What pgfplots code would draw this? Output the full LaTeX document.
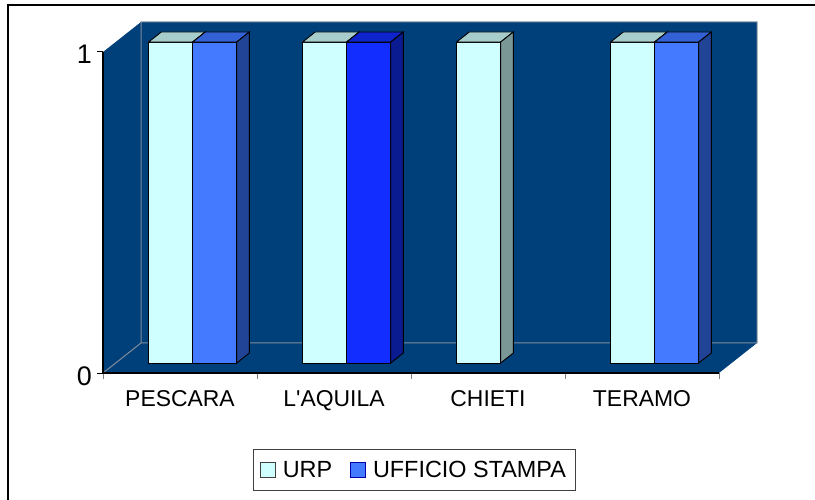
\documentclass[border=0pt]{standalone}
\usepackage{fontspec}
\setmainfont{Liberation Sans}[Ligatures=TeXOff]
\usepackage{pgfplots}
\pgfplotsset{compat=1.18}
\definecolor{wall}{RGB}{0,64,122}
\definecolor{edgegray}{RGB}{128,140,155}
\definecolor{urpF}{RGB}{208,255,255}
\definecolor{urpT}{RGB}{166,204,204}
\definecolor{urpS}{RGB}{122,153,150}
\definecolor{stF}{RGB}{68,122,255}
\definecolor{stT}{RGB}{51,98,214}
\definecolor{stS}{RGB}{34,68,150}
\definecolor{aqF}{RGB}{18,45,255}
\definecolor{aqT}{RGB}{14,36,204}
\definecolor{aqS}{RGB}{10,26,145}
% #1 left x, #2 right x, #3 value, #4 front, #5 top, #6 side
\newcommand{\tdbar}[6]{%
  \addplot3[fill=#4, draw=black, line width=0.9bp, forget plot] coordinates {(#1,0.333,0) (#2,0.333,0) (#2,0.333,#3) (#1,0.333,#3)} -- cycle;
  \addplot3[fill=#5, draw=black, line width=0.9bp, forget plot] coordinates {(#1,0.333,#3) (#2,0.333,#3) (#2,0.667,#3) (#1,0.667,#3)} -- cycle;
  \addplot3[fill=#6, draw=black, line width=0.9bp, forget plot] coordinates {(#2,0.333,0) (#2,0.667,0) (#2,0.667,#3) (#2,0.333,#3)} -- cycle;
}
\begin{document}
\begin{tikzpicture}
\useasboundingbox (0,0) rectangle (815bp,500bp);
\fill[white] (0,0) rectangle (815bp,500bp);
\draw[line width=1.5bp] (8bp,-10bp) -- (8bp,495bp) -- (830bp,495bp);
\begin{axis}[
  hide axis, clip=false, disabledatascaling,
  x={(154bp,0bp)}, y={(38bp,30bp)}, z={(0bp,321bp)},
  xmin=0, xmax=4, ymin=0, ymax=1, zmin=0, zmax=1,
  anchor=origin, at={(103bp,127bp)},
  no markers,
  legend columns=2,
  legend style={at={(axis description cs:0.4755,-0.2165)}, anchor=north,
    draw=darkgray, line width=0.8bp, font=\fontsize{23.5}{27}\selectfont,
    inner xsep=7bp, inner ysep=9.5bp,
    /tikz/every even column/.append style={column sep=16bp},
    /tikz/every odd column/.append style={column sep=5bp}},
  legend image code/.code={\draw[#1, line width=0.8bp] (0bp,-7.5bp) rectangle (15bp,7.5bp);},
]
\addlegendimage{fill=urpF, draw=darkgray}
\addlegendentry{URP}
\addlegendimage{fill=stF, draw=blue!70!black}
\addlegendentry{UFFICIO STAMPA}
% walls and floor
\addplot3[fill=wall, draw=none, forget plot] coordinates {(0,1,0) (4,1,0) (4,1,1) (0,1,1)} -- cycle;
\addplot3[fill=wall, draw=none, forget plot] coordinates {(0,0,0) (0,1,0) (0,1,1) (0,0,1)} -- cycle;
\addplot3[fill=wall, draw=none, forget plot] coordinates {(0,0,0) (4,0,0) (4,1,0) (0,1,0)} -- cycle;
\addplot3[draw=edgegray, line width=1bp, forget plot] coordinates {(0,0,0) (0,1,0) (4,1,0) (4,1,1) (0,1,1) (0,1,0)};
% bars: URP = 1,1,1,1 ; UFFICIO STAMPA = 1,1,0,1
\tdbar{0.214}{0.5}{1}{urpF}{urpT}{urpS}
\tdbar{0.5}{0.786}{1}{stF}{stT}{stS}
\tdbar{1.214}{1.5}{1}{urpF}{urpT}{urpS}
\tdbar{1.5}{1.786}{1}{aqF}{aqT}{aqS}
\tdbar{2.214}{2.5}{1}{urpF}{urpT}{urpS}
\tdbar{3.214}{3.5}{1}{urpF}{urpT}{urpS}
\tdbar{3.5}{3.786}{1}{stF}{stT}{stS}
% axis lines and ticks
\draw[gray, line width=1bp] (axis cs:0,0,0) -- ++(0,-6bp);
\draw[gray, line width=1bp] (axis cs:1,0,0) -- ++(0,-6bp);
\draw[gray, line width=1bp] (axis cs:2,0,0) -- ++(0,-6bp);
\draw[gray, line width=1bp] (axis cs:3,0,0) -- ++(0,-6bp);
\draw[gray, line width=1bp] (axis cs:4,0,0) -- ++(0,-6bp);
\draw[black, line width=1bp] (axis cs:0,0,0) -- ++(-6bp,0);
\draw[black, line width=1bp] (axis cs:0,0,1) -- ++(-6bp,0);
\draw[black, line width=1.5bp] (axis cs:0,0,1) -- (axis cs:0,0,0) -- (axis cs:4,0,0);
\node[anchor=base east, xshift=-11bp, yshift=-11.5bp, font=\fontsize{27}{30}\selectfont, inner sep=0] at (axis cs:0,0,1) {1};
\node[anchor=base east, xshift=-11bp, yshift=-12bp, font=\fontsize{27}{30}\selectfont, inner sep=0] at (axis cs:0,0,0) {0};
\node[anchor=base, yshift=-33bp, font=\fontsize{23}{26}\selectfont, inner sep=0] at (axis cs:0.5,0,0) {PESCARA};
\node[anchor=base, yshift=-33bp, font=\fontsize{23}{26}\selectfont, inner sep=0] at (axis cs:1.5,0,0) {L'AQUILA};
\node[anchor=base, yshift=-33bp, font=\fontsize{23}{26}\selectfont, inner sep=0] at (axis cs:2.5,0,0) {CHIETI};
\node[anchor=base, yshift=-33bp, font=\fontsize{23}{26}\selectfont, inner sep=0] at (axis cs:3.5,0,0) {TERAMO};
\end{axis}
\end{tikzpicture}
\end{document}
